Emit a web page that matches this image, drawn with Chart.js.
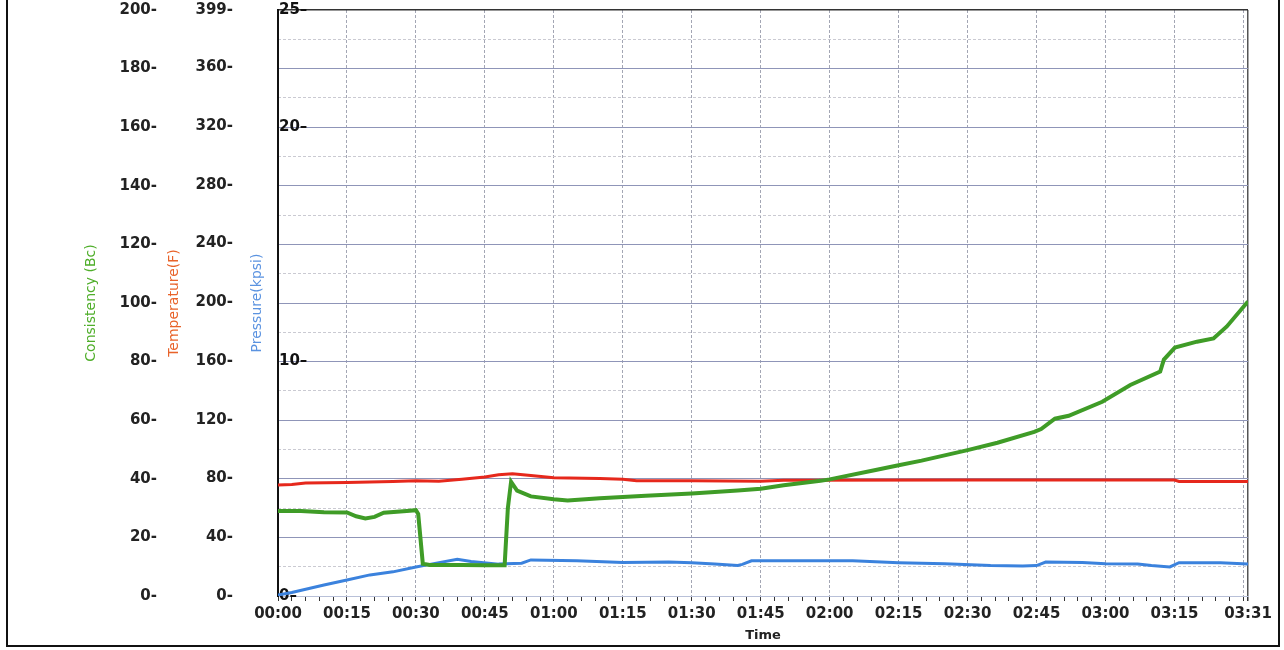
<!DOCTYPE html>
<html>
<head>
<meta charset="utf-8">
<script src="https://cdn.jsdelivr.net/npm/chart.js@4"></script>
<style>
  html, body { margin: 0; padding: 0; background: #fff; overflow: hidden; }
  #wrap { position: relative; width: 1284px; height: 650px; }
  #frame { position: absolute; left: 6px; top: -4px; width: 1270px; height: 647px; border: 2px solid #111; pointer-events: none; }
</style>
</head>
<body>
<div id="wrap">
  <canvas id="rheo"></canvas>
  <div id="frame"></div>
</div>
<script>
// time in minutes from 00:00 to 03:31
var consistencyTime = [0, 5, 10, 15, 17, 19, 21, 23, 28, 30, 30.5, 31.5, 33, 40, 45, 49.3, 50, 50.7, 52, 55, 60, 63, 70, 75, 80, 90, 100, 105, 110, 118, 120, 130, 135, 140, 150, 156.5, 164.5, 166, 169, 172, 179.3, 185.4, 191.9, 192.7, 195.1, 199.9, 203.5, 206.4, 211];
var consistencyBc = [29, 29, 28.6, 28.5, 27.2, 26.5, 27, 28.4, 29, 29.3, 28, 11, 10.6, 10.6, 10.5, 10.5, 30, 39, 36, 34, 33, 32.6, 33.4, 33.8, 34.2, 35, 36, 36.6, 37.8, 39.3, 39.8, 43, 44.6, 46.2, 49.8, 52.3, 56, 57, 60.5, 61.5, 66.3, 72, 76.6, 80.7, 84.8, 86.8, 87.9, 92, 100.5];

var temperatureTime = [0, 3, 6, 15, 25, 30, 35, 40, 45, 48, 51, 55, 60, 70, 75, 78, 90, 105, 110, 150, 175, 195, 196, 211];
var temperatureF = [75.5, 76, 77, 77.2, 78, 78.4, 78.2, 79.5, 81, 82.6, 83.3, 82, 80.5, 80, 79.5, 78.5, 78.5, 78.2, 78.8, 78.9, 79, 78.9, 78, 78];

var pressureTime = [0, 3, 10, 15, 20, 25, 30, 33, 39, 42, 48, 53, 55, 65, 75, 85, 90, 95, 100, 101, 103, 125, 135, 145, 155, 162, 165, 167, 175, 180, 187, 190, 194, 196, 205, 211];
var pressureKpsi = [0.04, 0.15, 0.47, 0.68, 0.9, 1.03, 1.24, 1.35, 1.57, 1.47, 1.36, 1.4, 1.54, 1.5, 1.43, 1.45, 1.42, 1.36, 1.3, 1.35, 1.5, 1.5, 1.42, 1.38, 1.3, 1.28, 1.3, 1.45, 1.43, 1.38, 1.37, 1.3, 1.24, 1.42, 1.42, 1.36];

var consistencyTicks = [0, 20, 40, 60, 80, 100, 120, 140, 160, 180, 200];
var temperatureTicks = [0, 40, 80, 120, 160, 200, 240, 280, 320, 360, 399];
var pressureTicks = [0, 10, 20, 25];

function pts(t, v) {
  return t.map(function (x, i) { return { x: x, y: v[i] }; });
}
function hhmm(m) {
  var h = Math.floor(m / 60), mm = m % 60;
  return (h < 10 ? '0' : '') + h + ':' + (mm < 10 ? '0' : '') + mm;
}
function fixWidth(w) {
  return function (s) { s.width = w; s.paddingTop = 0; s.paddingBottom = 0; };
}

var tickFont = { family: 'DejaVu Sans', size: 15, weight: 'bold' };
var titleFont = { family: 'DejaVu Sans', size: 14 };

var ctx = document.getElementById('rheo').getContext('2d');
var chart = new Chart(ctx, {
  type: 'line',
  data: {
    datasets: [
      { label: 'Consistency (Bc)', data: pts(consistencyTime, consistencyBc), yAxisID: 'yC',
        borderColor: '#3f9c27', borderWidth: 4, pointRadius: 0, tension: 0 },
      { label: 'Temperature(F)', data: pts(temperatureTime, temperatureF), yAxisID: 'yT',
        borderColor: '#e6281c', borderWidth: 3, pointRadius: 0, tension: 0 },
      { label: 'Pressure(kpsi)', data: pts(pressureTime, pressureKpsi), yAxisID: 'yP',
        borderColor: '#3b82dd', borderWidth: 3, pointRadius: 0, tension: 0 }
    ]
  },
  options: {
    responsive: true,
    maintainAspectRatio: false,
    animation: false,
    layout: { padding: { left: 80, top: 10, right: 36, bottom: 4 } },
    plugins: { legend: { display: false }, tooltip: { enabled: false } },
    scales: {
      x: {
        type: 'linear', min: 0, max: 211,
        afterBuildTicks: function (s) {
          var t = [];
          for (var m = 0; m <= 210; m += 3) t.push({ value: m });
          t.push({ value: 211 });
          s.ticks = t;
        },
        afterFit: function (s) { s.height = 50; },
        ticks: {
          autoSkip: false, maxRotation: 0, padding: 4, color: '#222', font: tickFont,
          callback: function (v) {
            if (v === 211) return '03:31';
            if (v % 15 === 0 && v !== 210) return hhmm(v);
            return '';
          }
        },
        grid: {
          tickLength: 5,
          tickColor: '#333',
          color: function (c) {
            if (!c.tick) return 'rgba(0,0,0,0)';
            if (c.tick.value === 211) return '#555';
            return c.tick.value % 15 === 0 ? '#a3a6b4' : 'rgba(0,0,0,0)';
          },
          lineWidth: function (c) { return c.tick && c.tick.value === 211 ? 1.5 : 1; }
        },
        border: {
          display: true, color: '#b8c0d8', width: 1,
          dash: function (c) { return c.tick && c.tick.value === 211 ? [] : [3, 2]; }
        },
        title: { display: true, text: 'Time', color: '#222', font: { family: 'DejaVu Sans', size: 13, weight: 'bold' }, padding: { top: 0, bottom: 3 } }
      },
      yC: {
        position: 'left', weight: 3, min: 0, max: 200,
        afterFit: fixWidth(85),
        ticks: {
          stepSize: 10, autoSkip: false, padding: 8, color: '#222', font: tickFont,
          callback: function (v) { return consistencyTicks.indexOf(v) >= 0 ? v + '-' : ''; }
        },
        grid: {
          drawTicks: false,
          color: function (c) {
            if (!c.tick) return '#ccc';
            var v = c.tick.value;
            if (v === 200) return '#333';
            if (v === 0) return '#c0c8e0';
            return v % 20 === 0 ? '#8f95b8' : '#cacad2';
          },
          lineWidth: function (c) { return c.tick && c.tick.value === 200 ? 1.5 : 1; }
        },
        border: {
          display: false,
          dash: function (c) { return c.tick && c.tick.value % 20 === 0 ? [] : [3, 2]; }
        },
        title: { display: true, text: 'Consistency (Bc)', color: '#4fae2a', font: titleFont, padding: { top: 3, bottom: 0 } }
      },
      yT: {
        position: 'left', weight: 2, min: 0, max: 399,
        afterFit: fixWidth(84),
        afterBuildTicks: function (s) { s.ticks = temperatureTicks.map(function (v) { return { value: v }; }); },
        ticks: {
          autoSkip: false, padding: 8, color: '#222', font: tickFont,
          callback: function (v) { return v + '-'; }
        },
        grid: { display: false, drawOnChartArea: false },
        border: { display: false },
        title: { display: true, text: 'Temperature(F)', color: '#e8632a', font: titleFont, padding: { top: 1, bottom: 0 } }
      },
      yP: {
        position: 'left', weight: 1, min: 0, max: 25,
        afterFit: fixWidth(29),
        afterBuildTicks: function (s) { s.ticks = pressureTicks.map(function (v) { return { value: v }; }); },
        ticks: {
          autoSkip: false, mirror: true, padding: 1, color: '#111', font: tickFont,
          callback: function (v) { return v + '–'; }
        },
        grid: { display: false, drawOnChartArea: false },
        border: { display: true, color: '#111', width: 2 },
        title: { display: true, text: 'Pressure(kpsi)', color: '#5b93e0', font: titleFont, padding: { top: 0, bottom: 0 } }
      }
    }
  }
});
</script>
</body>
</html>
